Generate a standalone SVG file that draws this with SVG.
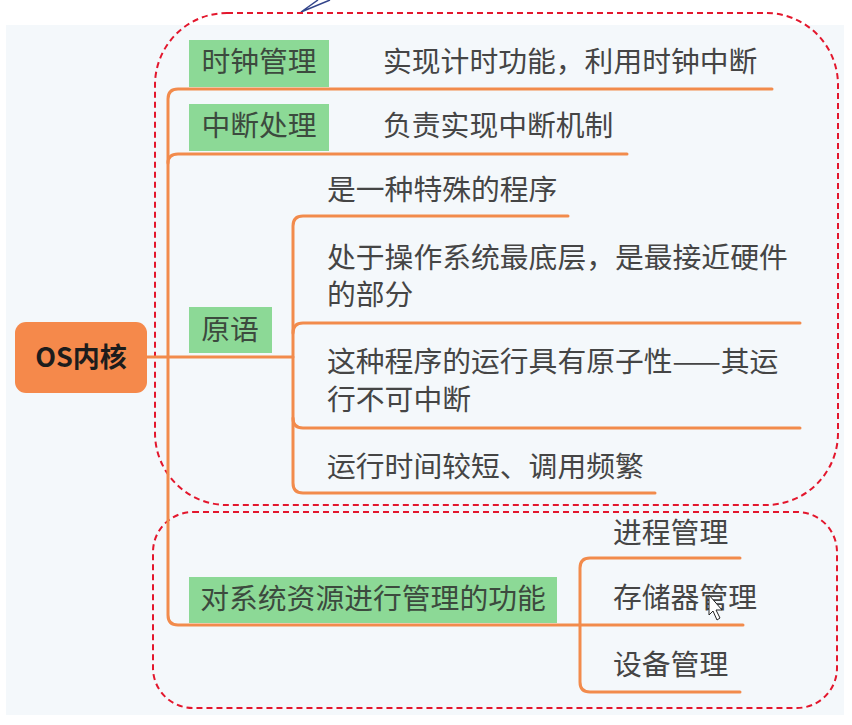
<svg xmlns="http://www.w3.org/2000/svg" width="852" height="725" viewBox="0 0 852 725">
<style>
.t{font-family:"Noto Sans CJK SC","Noto Sans",sans-serif;font-size:28.8px;fill:#454545}
.g{fill:#8cd996}
.gt{font-family:"Noto Sans CJK SC","Noto Sans",sans-serif;font-size:28.8px;fill:#3c4a3e;text-anchor:middle}
.ln{fill:none;stroke:#f28b4c;stroke-width:3;stroke-linecap:round}
.dash{fill:none;stroke:#e3172d;stroke-width:2;stroke-dasharray:6 4}
</style>
<rect x="0" y="0" width="852" height="725" fill="#ffffff"/>
<rect x="6" y="25" width="838" height="690" fill="#f4f8fb"/>
<polyline points="330,0 301,12 318,0" fill="none" stroke="#33458a" stroke-width="1.5"/>
<g id="frames">
<rect class="dash" x="155" y="13" width="683" height="492" rx="72" ry="72"/>
<rect class="dash" x="153" y="512" width="684" height="196" rx="40" ry="40"/>
</g>
<g id="connectors">
<path class="ln" d="M147,357 H293"/>
<path class="ln" d="M772,89 H178 Q168,89 168,99 V615 Q168,625 178,625 H743"/>
<path class="ln" d="M168,163 Q168,154 178,154 H627"/>
<path class="ln" d="M568,216 H303 Q293,216 293,226 V483 Q293,493 303,493 H655"/>
<path class="ln" d="M293,333 Q293,323 303,323 H800"/>
<path class="ln" d="M293,418 Q293,428 303,428 H800"/>
<path class="ln" d="M740,558 H590 Q580,558 580,568 V682 Q580,692 590,692 H740"/>
</g>
<g id="root">
<rect x="15" y="322" width="132" height="71" rx="11" fill="#f5894b"/>
<text x="81" y="367" text-anchor="middle" style="font-family:'Noto Sans CJK SC','Noto Sans',sans-serif;font-size:27px;font-weight:bold;fill:#1c1c1c">OS内核</text>
</g>
<g id="n-clock">
<rect class="g" x="189" y="40" width="140" height="47"/>
<text class="gt" x="259" y="72">时钟管理</text>
</g>
<g id="n-clock-desc"><text class="t" x="383" y="72">实现计时功能，利用时钟中断</text></g>
<g id="n-int">
<rect class="g" x="189" y="104" width="140" height="47"/>
<text class="gt" x="259" y="136">中断处理</text>
</g>
<g id="n-int-desc"><text class="t" x="383" y="136">负责实现中断机制</text></g>
<g id="n-prim">
<rect class="g" x="189" y="307" width="83" height="46"/>
<text class="gt" x="230" y="340">原语</text>
</g>
<g id="n-prim-1"><text class="t" x="327" y="200">是一种特殊的程序</text></g>
<g id="n-prim-2"><text class="t" x="327" y="268">处于操作系统最底层，是最接近硬件</text><text class="t" x="327" y="305">的部分</text></g>
<g id="n-prim-3"><text class="t" x="327" y="372">这种程序的运行具有原子性——其运</text><text class="t" x="327" y="410">行不可中断</text></g>
<g id="n-prim-4"><text class="t" x="327" y="477">运行时间较短、调用频繁</text></g>
<g id="n-res">
<rect class="g" x="189" y="577" width="368" height="46"/>
<text class="gt" x="373" y="609">对系统资源进行管理的功能</text>
</g>
<g id="n-res-1"><text class="t" x="613" y="543">进程管理</text></g>
<g id="n-res-2"><text class="t" x="613" y="608">存储器管理</text></g>
<g id="n-res-3"><text class="t" x="613" y="675">设备管理</text></g>
<path d="M709,595 L709,615 L713,611 L717,620 L720,618 L716,610 L722,610 Z" fill="#ffffff" stroke="#222" stroke-width="1"/>
</svg>
